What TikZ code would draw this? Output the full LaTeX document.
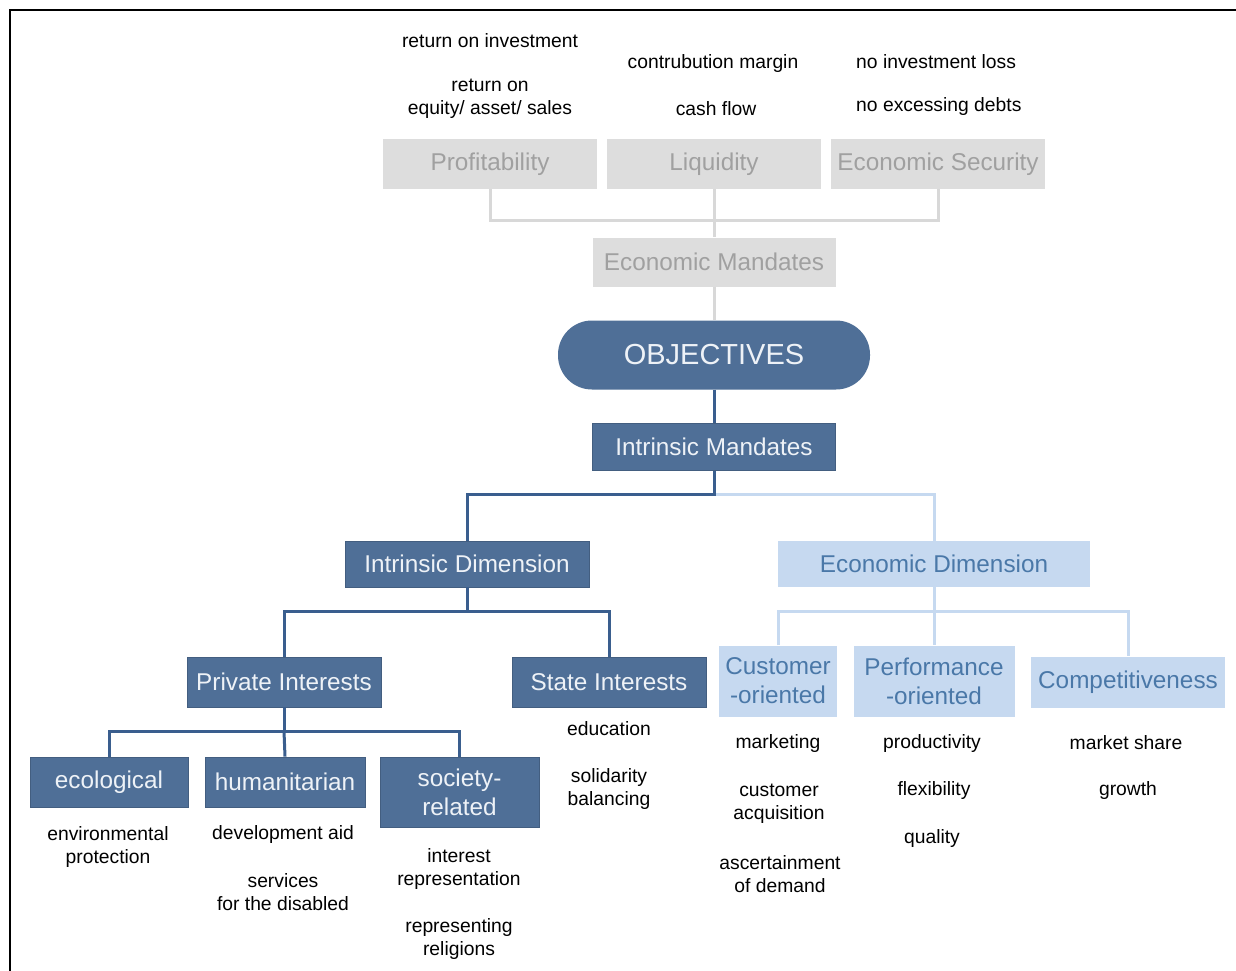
\documentclass[tikz,border=0pt]{standalone}
\usepackage{fontspec}
\setmainfont{Liberation Sans}
\definecolor{navyfill}{HTML}{4F6F97}
\definecolor{navyline}{HTML}{3A5E8E}
\definecolor{navytext}{HTML}{EEF2F7}
\definecolor{skyfill}{HTML}{C6D9F0}
\definecolor{skytext}{HTML}{4A78A8}
\definecolor{greyfill}{HTML}{DDDDDD}
\definecolor{greytext}{HTML}{A0A0A0}
\definecolor{greyline}{HTML}{D8D8D8}
\tikzset{
  darkbox/.style={rectangle, fill=navyfill, draw=navyfill!85!black, line width=0.8pt,
    text=navytext, inner sep=0pt, align=center,
    font=\fontsize{24.3}{29}\selectfont},
  lightbox/.style={rectangle, fill=skyfill, text=skytext, inner sep=0pt, align=center,
    font=\fontsize{24.3}{29}\selectfont},
  greybox/.style={rectangle, fill=greyfill, text=greytext, inner sep=0pt, align=center,
    font=\fontsize{24.3}{29}\selectfont},
  note/.style={inner sep=0pt, align=center, text=black,
    font=\fontsize{19.3}{23.5}\selectfont},
  dline/.style={draw=navyline, line width=3pt, line join=miter},
  lline/.style={draw=skyfill, line width=3pt, line join=miter},
  gline/.style={draw=greyline, line width=3pt, line join=miter},
}
\begin{document}
\begin{tikzpicture}[x=1pt, y=-1pt]
\useasboundingbox (0,0) rectangle (1236,971);
\fill[white] (0,0) rectangle (1236,971);
% frame
\draw[line width=2pt] (10,972) -- (10,10) -- (1237,10);

% economic mandates (grey branch)
\node[greybox, minimum width=214pt, minimum height=50pt] (prof) at (490,164) {Profitability};
\node[greybox, minimum width=214pt, minimum height=50pt] (liq) at (714,164) {Liquidity};
\node[greybox, minimum width=214pt, minimum height=50pt] (esec) at (938,164) {Economic Security};
\node[greybox, minimum width=243pt, minimum height=49pt] (emand) at (714,262) {Economic Mandates};

% root
\node[rectangle, rounded corners=34pt, fill=navyfill, text=navytext, inner sep=0pt,
  minimum width=312pt, minimum height=69pt, font=\fontsize{29}{33}\selectfont] (obj) at (714,355) {OBJECTIVES};

\node[darkbox, minimum width=243pt, minimum height=47pt] (imand) at (714,447) {Intrinsic Mandates};
\node[darkbox, minimum width=244pt, minimum height=46pt] (idim) at (467,564) {Intrinsic Dimension};
\node[lightbox, minimum width=312pt, minimum height=46pt] (edim) at (934,564) {Economic Dimension};

\node[darkbox, minimum width=194pt, minimum height=50pt] (priv) at (284,682) {Private Interests};
\node[darkbox, minimum width=194pt, minimum height=50pt] (state) at (609,682) {State Interests};

\node[lightbox, minimum width=118pt, minimum height=71pt] (cust) at (778,681) {Customer\\-oriented};
\node[lightbox, minimum width=161pt, minimum height=71pt] (perf) at (934,681) {Performance\\-oriented};
\node[lightbox, minimum width=194pt, minimum height=51pt] (comp) at (1128,682) {Competitiveness};

\node[darkbox, minimum width=158pt, minimum height=50pt] (eco) at (109,782) {ecological};
\node[darkbox, minimum width=160pt, minimum height=50pt] (hum) at (285,782) {humanitarian};
\node[darkbox, minimum width=159pt, minimum height=70pt] (soc) at (459.5,792) {society-\\related};

% connectors: grey branch
\coordinate (gj) at (714,220);
\draw[gline] (prof.south) |- (gj) -| (esec.south);
\draw[gline] (liq.south) -- (emand.north);
\draw[gline] (emand.south) -- (obj.north);

% connectors: blue branches
\coordinate (j1) at (714,494);
\coordinate (j2) at (467,611);
\coordinate (j3) at (934,611);
\coordinate (j4) at (284,731);
\draw[lline] (j1) -| (edim.north);
\draw[lline] (edim.south) -- (j3);
\draw[lline] (cust.north) |- (j3) -| (comp.north);
\draw[lline] (j3) -- (perf.north);
\draw[dline] (obj.south) -- (imand.north);
\draw[dline] (imand.south) -- (j1) -| (idim.north);
\draw[dline] (idim.south) -- (j2);
\draw[dline] (priv.north) |- (j2) -| (state.north);
\draw[dline] (priv.south) -- (j4);
\draw[dline] (eco.north) |- (j4) -| (soc.north);
\draw[dline] (j4) -- (hum.north);

% annotations
\node[note] (n1) at (490,41) {return on investment};
\node[note] (n2) at (490,99) {return on\\equity/ asset/ sales};
\node[note] (n3) at (713,64) {contrubution margin};
\node[note] (n4) at (716,109) {cash flow};
\node[note, anchor=west] (n5) at (856,62) {no investment loss};
\node[note, anchor=west] (n6) at (856,107) {no excessing debts};

\node[note] (n7) at (609,729) {education};
\node[note] (n8) at (609,789) {solidarity\\balancing};

\node[note] (n9) at (778,744) {marketing};
\node[note] (n10) at (779,804) {customer\\acquisition};
\node[note] (n11) at (780,874) {ascertainment\\of demand};

\node[note] (n12) at (932,744) {productivity};
\node[note] (n13) at (934,791) {flexibility};
\node[note] (n14) at (932,838) {quality};

\node[note] (n15) at (1126,743) {market share};
\node[note] (n16) at (1128,791) {growth};

\node[note] (n17) at (108,847) {environmental\\protection};
\node[note] (n18) at (283,834) {development aid};
\node[note] (n19) at (283,892) {services\\for the disabled};
\node[note] (n20) at (459,869) {interest\\representation};
\node[note] (n21) at (459,939) {representing\\religions};
\end{tikzpicture}
\end{document}
